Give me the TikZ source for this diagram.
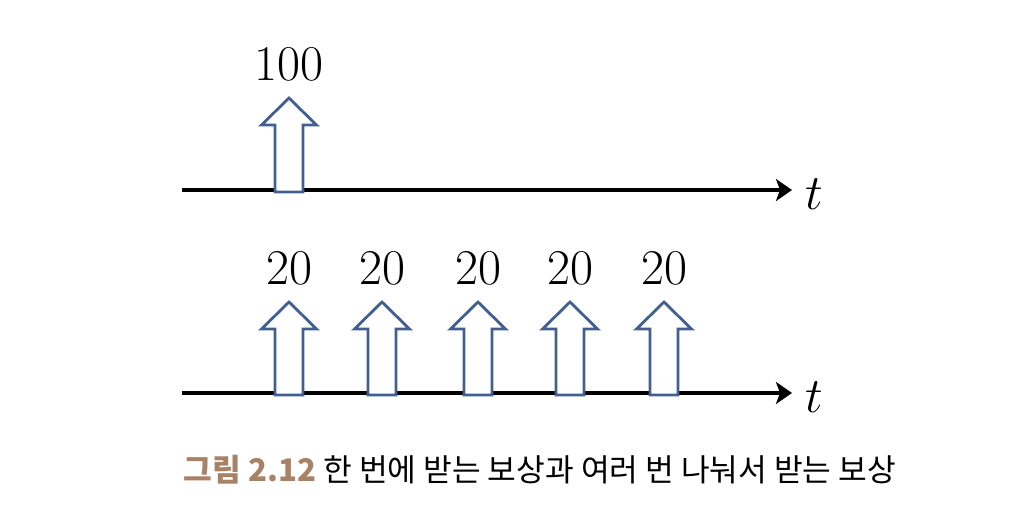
\documentclass[tikz,border=0pt]{standalone}
\usepackage{fontspec}
\newfontfamily\kofont{Noto Sans CJK KR}
\usetikzlibrary{positioning,arrows.meta}
\definecolor{arrowblue}{RGB}{65,95,145}
\definecolor{capbrown}{RGB}{168,130,102}

\newcommand{\blockarrow}[3]{%
  \draw[reward] (#1-14,#3) -- (#1-14,#2+27) -- (#1-27.5,#2+27) -- (#1,#2)
    -- (#1+27.5,#2+27) -- (#1+14,#2+27) -- (#1+14,#3) -- cycle;}

\tikzset{
  axis/.style={line width=2pt, -{Stealth[length=8pt,width=11pt,inset=2pt]}},
  reward/.style={draw=arrowblue, line width=1.4pt, fill=white, line join=miter},
  amount/.style={font=\fontsize{25}{30}\selectfont, inner sep=0pt},
}

\begin{document}
\begin{tikzpicture}[x=0.5pt,y=-0.5pt]
\useasboundingbox (0,0) rectangle (1014,514);

% one reward at once
\coordinate (axis_0) at (182,190);
\coordinate (axisend_0) at (792,190);
\node[amount, anchor=west] (t_0) at (805,194) {$t$};
\draw[axis] (axis_0) -- (axisend_0);
\blockarrow{289}{98}{192}
\node[amount] (reward_0) at (289,64) {100};

% the same reward split in five
\coordinate (axis_1) at (182,393);
\coordinate (axisend_1) at (792,393);
\node[amount, anchor=west] (t_1) at (805,397) {$t$};
\draw[axis] (axis_1) -- (axisend_1);
\foreach \x [count=\i] in {289,382,478,570,664} {
  \blockarrow{\x}{302}{395}
  \node[amount] (reward_1_\i) at (\x,268) {20};
}

\node[font=\kofont\fontsize{15.6}{18}\selectfont] (caption) at (540,470)
  {{\bfseries\color{capbrown}그림 2.12} 한 번에 받는 보상과 여러 번 나눠서 받는 보상};

\end{tikzpicture}
\end{document}
